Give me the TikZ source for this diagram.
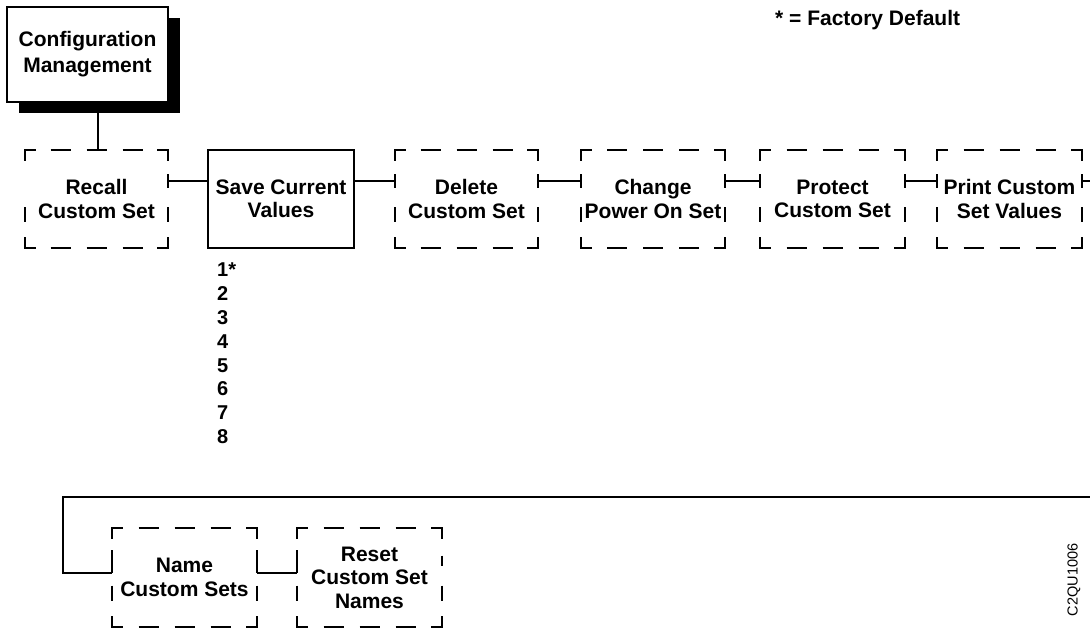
\documentclass[tikz,border=0pt]{standalone}
\usepackage{fontspec}
\setmainfont{Liberation Sans}
\usetikzlibrary{calc,shadows}
\tikzset{
  dl/.style={line width=2pt},
  lbl/.style={inner sep=0pt, align=center, text=black,
    font=\bfseries\fontsize{21}{23.5}\selectfont},
  dbox/.style={lbl, minimum height=98pt},
}
\newcommand\dbx[1]{%
  \draw[dl] ($(#1.north west)+(0,11)$) -- (#1.north west) -- ($(#1.north west)+(11,0)$);
  \draw[dl] ($(#1.north east)+(-11,0)$) -- (#1.north east) -- ($(#1.north east)+(0,11)$);
  \draw[dl] ($(#1.south west)+(0,-11)$) -- (#1.south west) -- ($(#1.south west)+(11,0)$);
  \draw[dl] ($(#1.south east)+(-11,0)$) -- (#1.south east) -- ($(#1.south east)+(0,-11)$);
  \foreach \a in {north,south}{\foreach \o in {-36,0,36}{%
    \draw[dl] ($(#1.\a)+(\o-10,0)$) -- ($(#1.\a)+(\o+10,0)$);}}
  \foreach \a in {west,east}{\draw[dl] ($(#1.\a)+(0,8)$) -- ($(#1.\a)+(0,23)$);}
}
\newcommand\utick[3]{\draw[dl] ($(#1)+(0,#2)$) -- ($(#1)+(0,#3)$);}
\begin{document}
\begin{tikzpicture}[x=1pt,y=-1pt]
\useasboundingbox (0,0) rectangle (1090,629);
% top box with shadow
\node[lbl, draw, fill=white, line width=2pt, minimum width=161pt, minimum height=95pt,
  general shadow={fill=black, shadow xshift=12pt, shadow yshift=-11pt},
  font=\bfseries\fontsize{21}{26}\selectfont] (cfg) at (87.5,54.5) {Configuration\\Management};
\node[lbl, anchor=base west] (fd) at (775,25) {* = Factory Default};
% first row
\node[dbox, minimum width=143pt] (recall) at (96.5,199) {Recall\\Custom Set};
\node[lbl, draw, line width=2pt, minimum width=146pt, minimum height=98pt] (save) at (281,199) {Save Current\\Values};
\node[dbox, minimum width=143pt] (delete) at (466.5,199) {Delete\\Custom Set};
\node[dbox, minimum width=144pt] (change) at (653,199) {Change\\Power On Set};
\node[dbox, minimum width=145pt] (protect) at (832.5,199) {Protect\\Custom Set};
\node[dbox, minimum width=145pt] (print) at (1009.5,199) {Print Custom\\Set Values};
\foreach \n in {recall,delete,change,protect,print}{\dbx{\n}}
\node[inner sep=0pt, align=left, anchor=north west, text=black,
  font=\bfseries\fontsize{20}{23.8}\selectfont] (vals) at (217,263) {1*\\2\\3\\4\\5\\6\\7\\8};
% second row
\node[dbox, minimum width=145pt, minimum height=99pt] (name) at (184.5,577.5) {Name\\Custom Sets};
\node[dbox, minimum width=145pt, minimum height=99pt] (reset) at (369.5,577.5) {Reset\\Custom Set\\Names};
\dbx{name}
\dbx{reset}
% connectors
\draw[dl] ([xshift=1.5pt]recall.north |- cfg.south) -- ([xshift=1.5pt]recall.north);
\draw[dl] ($(recall.east)+(0,-18)$) -- ($(save.west)+(0,-18)$);
\draw[dl] ($(save.east)+(0,-18)$) -- ($(delete.west)+(0,-18)$);
\draw[dl] ($(delete.east)+(0,-18)$) -- ($(change.west)+(0,-18)$);
\draw[dl] ($(change.east)+(0,-18)$) -- ($(protect.west)+(0,-18)$);
\draw[dl] ($(protect.east)+(0,-18)$) -- ($(print.west)+(0,-18)$);
\coordinate (rt) at (1090,181);
\draw[dl] ($(print.east)+(0,-18)$) -- (rt);
\utick{recall.east}{-25}{-11}
\foreach \n in {delete,change,protect,print}{\utick{\n.west}{-25}{-11}\utick{\n.east}{-25}{-11}}
\coordinate (br) at (1090,497);
\coordinate (bl) at (63,497);
\draw[dl] (br) -- (bl) |- ($(name.west)+(0,-4.5)$);
\draw[dl] ($(name.east)+(0,-4.5)$) -- ($(reset.west)+(0,-4.5)$);
\utick{name.west}{-27.5}{-4.5}
\utick{name.east}{-27.5}{-4.5}
\utick{reset.west}{-27.5}{-4.5}
\utick{reset.east}{-22}{-12}
\node[inner sep=0pt, rotate=90, text=black, font=\fontsize{14.5}{16}\selectfont] (code) at (1074,580) {C2QU1006};
\end{tikzpicture}
\end{document}
